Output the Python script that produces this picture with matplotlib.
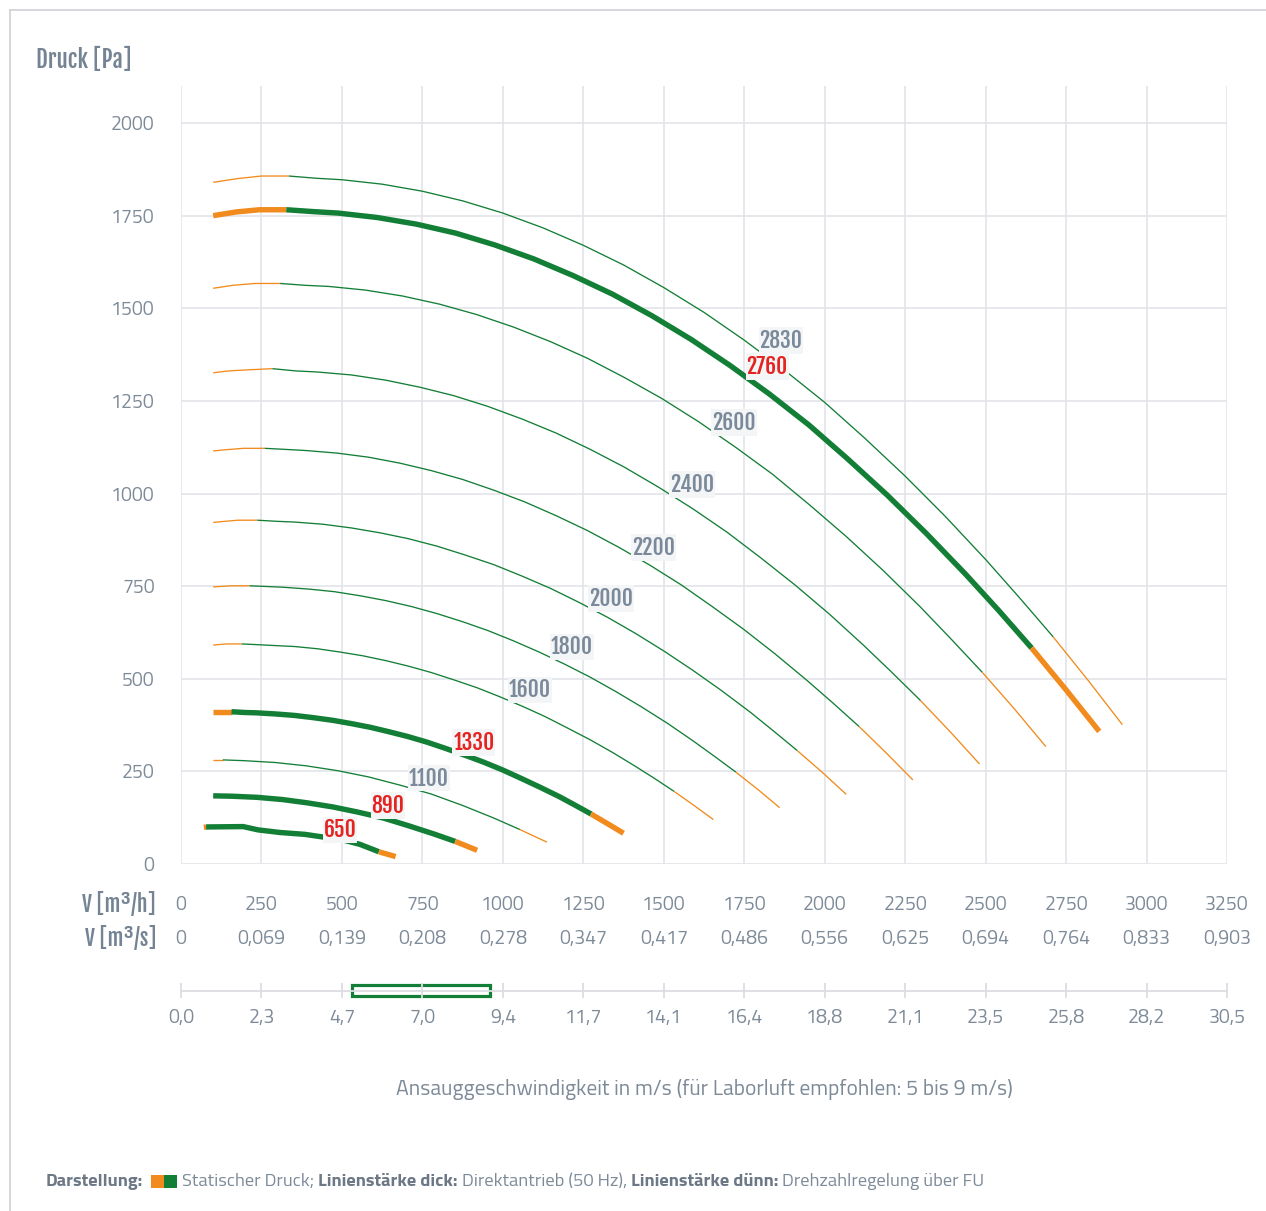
import numpy as np
import matplotlib
matplotlib.use("Agg")
import matplotlib.pyplot as plt
from matplotlib import transforms
from matplotlib import font_manager as fm
from matplotlib.lines import Line2D
from matplotlib.patches import Rectangle

# --- Kennlinien (Volumenstrom m3/h, statischer Druck Pa) ---
speeds = [2830, 2760, 2600, 2400, 2200, 2000, 1800, 1600, 1330, 1100, 890, 650]
thick = [False, True, False, False, False, False, False, False, True, False, True, True]

q_2830 = [100, 175, 250, 335, 420, 500, 625, 750, 875, 1000, 1125, 1250, 1375, 1500, 1625,
          1750, 1875, 2000, 2125, 2250, 2375, 2500, 2605, 2710, 2820, 2925]
p_2830 = [1840, 1850, 1857, 1857, 1851, 1847, 1835, 1816, 1790, 1757, 1717, 1670, 1617, 1556, 1489,
          1414, 1333, 1246, 1149, 1047, 938, 822, 719, 613, 494, 376]
q_2760 = [100, 171, 244, 327, 410, 488, 610, 732, 853, 975, 1097, 1219, 1341, 1463, 1585,
          1707, 1829, 1951, 2072, 2194, 2316, 2438, 2541, 2643, 2750, 2853]
p_2760 = [1750, 1760, 1766, 1766, 1761, 1757, 1745, 1727, 1703, 1671, 1633, 1588, 1538, 1480, 1416,
          1345, 1268, 1185, 1093, 996, 892, 782, 684, 583, 470, 358]
q_2600 = [100, 161, 230, 308, 386, 459, 574, 689, 804, 919, 1034, 1148, 1263, 1378, 1493,
          1608, 1723, 1838, 1952, 2067, 2182, 2297, 2393, 2490, 2591, 2687]
p_2600 = [1554, 1562, 1567, 1567, 1562, 1559, 1549, 1533, 1511, 1483, 1449, 1410, 1365, 1313, 1257,
          1194, 1125, 1052, 970, 884, 792, 694, 607, 517, 417, 317]
q_2400 = [100, 148, 212, 284, 356, 424, 530, 636, 742, 848, 954, 1060, 1166, 1272, 1378,
          1484, 1590, 1696, 1802, 1908, 2014, 2120, 2209, 2298, 2392, 2481]
p_2400 = [1326, 1331, 1334, 1337, 1331, 1328, 1320, 1306, 1287, 1264, 1235, 1201, 1163, 1119, 1071,
          1017, 959, 896, 826, 753, 675, 591, 517, 441, 355, 270]
q_2200 = [100, 136, 194, 260, 327, 389, 486, 583, 680, 777, 875, 972, 1069, 1166, 1263,
          1360, 1458, 1555, 1652, 1749, 1846, 1943, 2025, 2107, 2192, 2274]
p_2200 = [1115, 1118, 1122, 1122, 1119, 1116, 1109, 1098, 1082, 1062, 1038, 1009, 977, 940, 900,
          855, 806, 753, 694, 633, 567, 497, 435, 371, 299, 227]
q_2000 = [100, 124, 177, 237, 297, 353, 442, 530, 618, 707, 795, 883, 972, 1060, 1148,
          1237, 1325, 1413, 1502, 1590, 1678, 1767, 1841, 1915, 1993, 2067]
p_2000 = [922, 924, 928, 928, 925, 923, 917, 907, 894, 878, 858, 834, 808, 777, 744,
          706, 666, 622, 574, 523, 469, 411, 359, 306, 247, 188]
q_1800 = [100, 159, 213, 267, 318, 398, 477, 557, 636, 716, 795, 875, 954, 1034, 1113,
          1193, 1272, 1352, 1431, 1511, 1590, 1657, 1724, 1794, 1860]
p_1800 = [748, 751, 751, 749, 747, 742, 735, 724, 711, 695, 676, 654, 630, 602, 572,
          539, 504, 465, 424, 380, 333, 291, 248, 200, 152]
q_1600 = [100, 141, 189, 238, 283, 353, 424, 495, 565, 636, 707, 777, 848, 919, 989,
          1060, 1131, 1201, 1272, 1343, 1413, 1473, 1532, 1594, 1654]
p_1600 = [591, 594, 594, 592, 590, 587, 581, 572, 562, 549, 534, 517, 497, 476, 452,
          426, 398, 367, 335, 300, 263, 230, 196, 158, 120]
q_1330 = [100, 118, 157, 197, 235, 294, 353, 411, 470, 529, 588, 646, 705, 764, 822,
          881, 940, 999, 1057, 1116, 1175, 1224, 1274, 1325, 1375]
p_1330 = [411, 411, 411, 409, 408, 405, 401, 395, 388, 379, 369, 357, 344, 329, 312,
          294, 275, 254, 231, 207, 182, 159, 135, 109, 83]
q_1100 = [100, 130, 194, 292, 389, 486, 583, 680, 777, 875, 972, 1053, 1095, 1137]
p_1100 = [281, 281, 279, 274, 265, 252, 235, 213, 189, 158, 124, 93, 76, 59]
q_890 = [100, 157, 236, 315, 393, 472, 550, 629, 708, 786, 852, 920]
p_890 = [184, 183, 180, 174, 165, 154, 140, 124, 103, 81, 61, 37]
q_650 = [71, 78, 193, 240, 308, 385, 503, 556, 615, 667]
p_650 = [99, 100, 101, 92, 85, 80, 65, 53, 33, 20]

# gruener Bereich (Q von / bis), davor und danach orange
green_from = [335, 327, 308, 284, 260, 237, 213, 189, 157, 130, 100, 78]
green_to = [2710, 2643, 2490, 2298, 2107, 1915, 1724, 1532, 1274, 1053, 852, 615]

flow_ticks = [0, 250, 500, 750, 1000, 1250, 1500, 1750, 2000, 2250, 2500, 2750, 3000, 3250]
flow_s_labels = ["0", "0,069", "0,139", "0,208", "0,278", "0,347", "0,417", "0,486",
                 "0,556", "0,625", "0,694", "0,764", "0,833", "0,903"]
vel_labels = ["0,0", "2,3", "4,7", "7,0", "9,4", "11,7", "14,1", "16,4", "18,8",
              "21,1", "23,5", "25,8", "28,2", "30,5"]
vel_max = 30.5
vel_recommended = (5, 9)
p_ticks = [0, 250, 500, 750, 1000, 1250, 1500, 1750, 2000]

curves_q = [q_2830, q_2760, q_2600, q_2400, q_2200, q_2000, q_1800, q_1600, q_1330, q_1100, q_890, q_650]
curves_p = [p_2830, p_2760, p_2600, p_2400, p_2200, p_2000, p_1800, p_1600, p_1330, p_1100, p_890, p_650]

# Beschriftungen der Kurven (Lage in m3/h, Pa)
label_pos = [(1864, 1413), (1821, 1343), (1718, 1192), (1588, 1024), (1467, 854), (1336, 716),
             (1215, 586), (1084, 470), (910, 327), (771, 232), (643, 157), (494, 92)]

# --- Farben / Schriften ---
GREEN = "#137f36"
ORANGE = "#f18b1e"
RED = "#e42421"
GRID = "#e3e4e8"
TXT = "#7d8a98"
HEAD = "#748494"

names = {f.name for f in fm.fontManager.ttflist}
cond_opts = [f for f in ["Fjalla One", "Barlow Condensed", "PT Sans Narrow", "Liberation Sans Narrow"]
             if f in names]
COND = cond_opts[:1] + ["DejaVu Sans"]
CW = "normal" if COND[0] == "Fjalla One" else "bold"
BODY = [f for f in ["Titillium Web", "Lato"] if f in names][:1] + ["DejaVu Sans"]

W, H = 1266, 1211
fig = plt.figure(figsize=(W / 100, H / 100), dpi=100)


def fx(px):
    return px / W


def fy(py):
    return 1 - py / H


ax = fig.add_axes([fx(181), fy(864), fx(1227) - fx(181), fy(86) - fy(864)])
ax.set_xlim(0, 3250)
ax.set_ylim(0, 2100)
for s in ax.spines.values():
    s.set_visible(False)
ax.set_xticks(flow_ticks)
ax.set_xticklabels([])
ax.set_yticks(p_ticks)
ax.set_yticklabels([str(v) for v in p_ticks], family=BODY, fontsize=14, color=TXT)
ax.tick_params(length=0)
ax.tick_params(axis="y", pad=19)
ax.grid(color=GRID, lw=1.2)
ax.set_axisbelow(True)

# Kennlinien
for q, p, gs, ge, th in zip(curves_q, curves_p, green_from, green_to, thick):
    q = np.array(q)
    p = np.array(p)
    lw = 3.9 if th else 0.95
    kw = dict(lw=lw, solid_capstyle="butt", solid_joinstyle="round", zorder=3)
    a = q <= gs
    g = (q >= gs) & (q <= ge)
    b = q >= ge
    if a.sum() > 1:
        ax.plot(q[a], p[a], color=ORANGE, **kw)
    ax.plot(q[g], p[g], color=GREEN, **kw)
    ax.plot(q[b], p[b], color=ORANGE, **kw)

for (lx, ly), sp, th in zip(label_pos, speeds, thick):
    ax.text(lx, ly, str(sp), ha="center", va="center", family=COND,
            fontweight=CW, fontsize=15.5, color=RED if th else "#7b8a9a", zorder=5,
            bbox=dict(boxstyle="square,pad=0.04", fc="#f3f5f7", ec="none"))

# Achsbeschriftungen x
trans = transforms.blended_transform_factory(ax.transData, fig.transFigure)
for q, ls in zip(flow_ticks, flow_s_labels):
    ax.text(q, fy(905), str(q), transform=trans, ha="center", va="center",
            family=BODY, fontsize=14, color=TXT)
    ax.text(q, fy(939), ls, transform=trans, ha="center", va="center",
            family=BODY, fontsize=14, color=TXT)

fig.text(fx(156), fy(905), "V [m³/h]", ha="right", va="center", family=COND,
         fontweight=CW, fontsize=15.5, color=HEAD)
fig.text(fx(156), fy(939), "V [m³/s]", ha="right", va="center", family=COND,
         fontweight=CW, fontsize=15.5, color=HEAD)
fig.text(fx(36), fy(60), "Druck [Pa]", ha="left", va="center", family=COND,
         fontweight=CW, fontsize=16.5, color=HEAD)

# Geschwindigkeitsachse
ax_v = fig.add_axes([fx(181), fy(998), fx(1227) - fx(181), fy(983) - fy(998)])
ax_v.set_xlim(0, vel_max)
ax_v.set_ylim(0, 1)
ax_v.axis("off")
vel_ticks = np.linspace(0, vel_max, len(vel_labels))
ax_v.plot([0, vel_max], [0.5, 0.5], color="#dcdde1", lw=1.3, clip_on=False)
ax_v.vlines(vel_ticks, 0, 1, color="#dcdde1", lw=1.3, clip_on=False)
v0, v1 = vel_recommended
ax_v.add_patch(Rectangle((v0, 0.13), v1 - v0, 0.74, fill=False, ec=GREEN, lw=2.3, clip_on=False))
trans_v = transforms.blended_transform_factory(ax_v.transData, fig.transFigure)
for v, lab in zip(vel_ticks, vel_labels):
    ax_v.text(v, fy(1018), lab, transform=trans_v, ha="center", va="center",
              family=BODY, fontsize=14, color=TXT)

fig.text(fx(704), fy(1089), "Ansauggeschwindigkeit in m/s (für Laborluft empfohlen: 5 bis 9 m/s)",
         ha="center", va="center", family=BODY, fontsize=15.4, color=TXT)

# Rahmen
fig.add_artist(Line2D([fx(10), 1], [fy(10), fy(10)], color="#d0d1d5", lw=1.2))
fig.add_artist(Line2D([fx(10), fx(10)], [fy(10), 0], color="#d0d1d5", lw=1.2))

# Legende unten
renderer = fig.canvas.get_renderer()


def piece(x, s, bold):
    t = fig.text(fx(x), fy(1182), s, ha="left", va="center", family=BODY, fontsize=13.2,
                 fontweight="bold" if bold else "normal", color="#6c7886" if bold else TXT)
    return x + t.get_window_extent(renderer).width


piece(46, "Darstellung:", True)
fig.add_artist(Rectangle((fx(151), fy(1188)), fx(13), fy(1175) - fy(1188), transform=fig.transFigure,
                         fc=ORANGE, ec="none"))
fig.add_artist(Rectangle((fx(164), fy(1188)), fx(13), fy(1175) - fy(1188), transform=fig.transFigure,
                         fc=GREEN, ec="none"))
x = piece(182, "Statischer Druck;", False) + 4
x = piece(x, "Linienstärke dick:", True) + 4
x = piece(x, "Direktantrieb (50 Hz),", False) + 4
x = piece(x, "Linienstärke dünn:", True) + 4
piece(x, "Drehzahlregelung über FU", False)

fig.savefig("out.png", dpi=100, facecolor="white")
